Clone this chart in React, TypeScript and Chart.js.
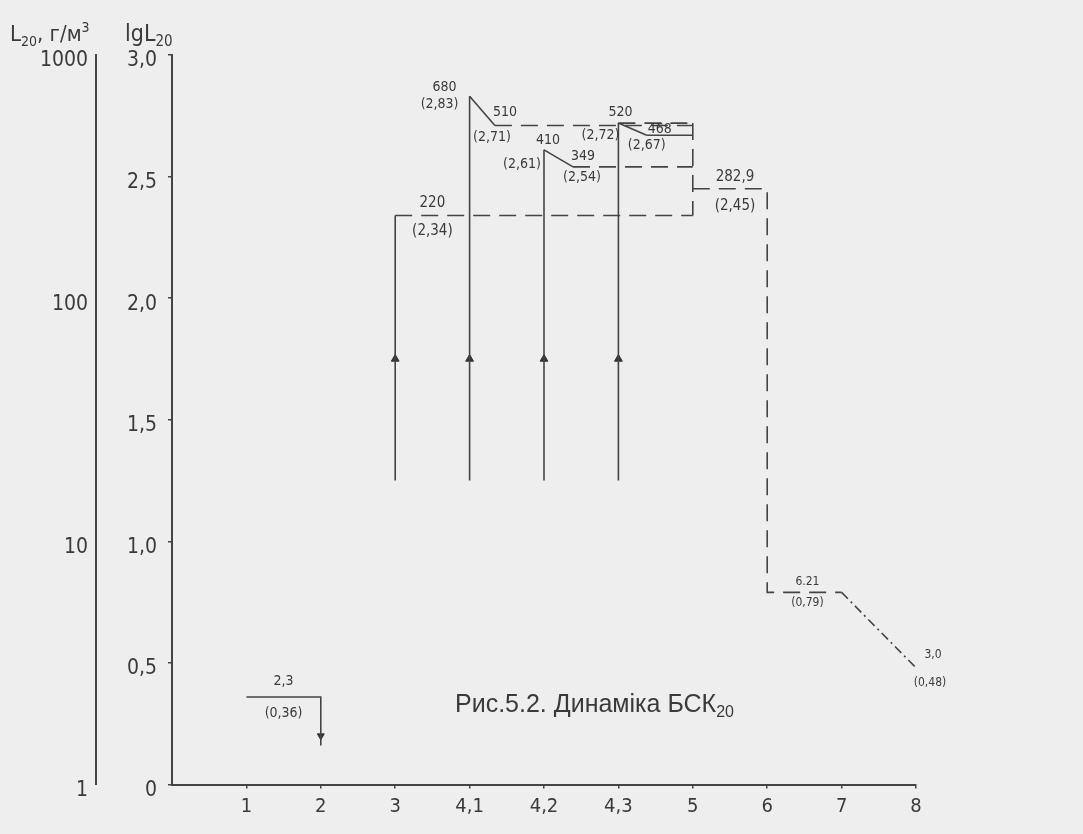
import React, { useEffect, useRef } from 'react';
import { Chart, registerables } from 'chart.js';

Chart.register(...registerables);

// ---------- data ----------
const xCategories = ['1', '2', '3', '4,1', '4,2', '4,3', '5', '6', '7', '8']; // at positions 1..10
const lgTicks = [0, 0.5, 1, 1.5, 2, 2.5, 3];
const l20Ticks = [1, 10, 100, 1000]; // at lg = 0, 1, 2, 3

// stations 1–2
const st12Lg = 0.36;
const st2DropLg = 0.16;
const st2ArrowLg = 0.2;
// risers at stations 3, 4.1, 4.2, 4.3 (positions 3..6)
const riserPos = [3, 4, 5, 6];
const riserBaseLg = 1.25;
const riserArrowLg = 1.75;
const riserTopLg = [2.34, 2.83, 2.61, 2.72];
// decline after peaks at 4.1, 4.2, 4.3
const dropStartPos = [4, 5, 6];
const dropStartLg = [2.83, 2.61, 2.72];
const dropEndPos = [4.34, 5.39, 6.38];
const dropEndLg = [2.71, 2.54, 2.67];
// stations 5..8
const st5Pos = 7;
const st6Pos = 8;
const st7Pos = 9;
const st8Pos = 10;
const st3Lg = 2.34;
const st5TopLg = 2.72;
const st56Lg = 2.45;
const st67Lg = 0.79;
const st8Lg = 0.48;

// annotation texts
const l20Labels = ['2,3', '220', '680', '510', '410', '349', '520', '468', '282,9', '6.21', '3,0'];
const lgLabels = ['(0,36)', '(2,34)', '(2,83)', '(2,71)', '(2,61)', '(2,54)', '(2,72)', '(2,67)', '(2,45)', '(0,79)', '(0,48)'];
const labelAnchorX = [1.5, 3.5, 4, 4.34, 5, 5.39, 6, 6.38, 7.5, 8.5, 10];
const labelAnchorLg = [0.36, 2.34, 2.83, 2.71, 2.61, 2.54, 2.72, 2.67, 2.45, 0.79, 0.48];

// ---------- layout / style (not data) ----------
const labelLayout = [
  { tdx: 0, tdy: -16, bdx: 0, bdy: 16, size: 14 },
  { tdx: 0, tdy: -12, bdx: 0, bdy: 16, size: 15 },
  { tdx: -25, tdy: -9, bdx: -30, bdy: 8, size: 14 },
  { tdx: 10, tdy: -13, bdx: -3, bdy: 12, size: 14 },
  { tdx: 4, tdy: -9, bdx: -22, bdy: 15, size: 14 },
  { tdx: 10, tdy: -10, bdx: 9, bdy: 11, size: 14 },
  { tdx: 2, tdy: -11, bdx: -18, bdy: 12, size: 14 },
  { tdx: 13, tdy: -6, bdx: 0, bdy: 10, size: 14 },
  { tdx: 5, tdy: -12, bdx: 5, bdy: 17, size: 15 },
  { tdx: 3, tdy: -11, bdx: 3, bdy: 10, size: 12 },
  { tdx: 17, tdy: -13, bdx: 14, bdy: 15, size: 12 },
];

const FONT = "'DejaVu Sans Condensed', 'Liberation Sans Narrow', 'DejaVu Sans', sans-serif";
const INK = '#3a3a3a';
const LINE = '#444444';
const BG = '#eeeeee';
const DASH = [17, 9];
const DASHDOT = [9, 4, 2, 4];

type P = { x: number; y: number };
const seg = (pts: P[], dash: number[] = [], width = 1.6) => ({
  type: 'line' as const,
  data: pts,
  showLine: true,
  borderColor: LINE,
  borderWidth: width,
  borderDash: dash,
  pointRadius: 0,
  fill: false,
  tension: 0,
  xAxisID: 'x',
  yAxisID: 'y',
});

function buildDatasets() {
  const ds: any[] = [];
  // station 1-2
  ds.push(seg([{ x: 1, y: st12Lg }, { x: 2, y: st12Lg }, { x: 2, y: st2DropLg }]));
  // risers
  riserPos.forEach((p, i) => ds.push(seg([{ x: p, y: riserBaseLg }, { x: p, y: riserTopLg[i] }])));
  // declines
  dropStartPos.forEach((p, i) =>
    ds.push(seg([{ x: p, y: dropStartLg[i] }, { x: dropEndPos[i], y: dropEndLg[i] }]))
  );
  // solid continuation of 4.3 decline
  ds.push(seg([{ x: dropEndPos[2], y: dropEndLg[2] }, { x: st5Pos, y: dropEndLg[2] }]));
  // dashed levels to station 5
  ds.push(seg([{ x: riserPos[0], y: st3Lg }, { x: st5Pos, y: st3Lg }], DASH));
  ds.push(seg([{ x: dropEndPos[0], y: dropEndLg[0] }, { x: st5Pos, y: dropEndLg[0] }], DASH));
  ds.push(seg([{ x: riserPos[3], y: st5TopLg }, { x: st5Pos, y: st5TopLg }], DASH));
  ds.push(seg([{ x: dropEndPos[1], y: dropEndLg[1] }, { x: st5Pos, y: dropEndLg[1] }], DASH));
  ds.push(seg([{ x: st5Pos, y: st5TopLg }, { x: st5Pos, y: st3Lg }], DASH));
  // 5 -> 6 -> 7
  ds.push(
    seg(
      [
        { x: st5Pos, y: st56Lg },
        { x: st6Pos, y: st56Lg },
        { x: st6Pos, y: st67Lg },
        { x: st7Pos, y: st67Lg },
      ],
      DASH
    )
  );
  // 7 -> 8
  ds.push(seg([{ x: st7Pos, y: st67Lg }, { x: st8Pos, y: st8Lg }], DASHDOT));
  // arrowheads
  ds.push({
    type: 'scatter',
    data: riserPos.map((p) => ({ x: p, y: riserArrowLg })),
    pointStyle: 'triangle',
    pointRadius: 4.5,
    pointBackgroundColor: '#333',
    pointBorderColor: '#333',
    pointBorderWidth: 1,
    showLine: false,
    xAxisID: 'x',
    yAxisID: 'y',
  });
  ds.push({
    type: 'scatter',
    data: [{ x: 2, y: st2ArrowLg }],
    pointStyle: 'triangle',
    rotation: 180,
    pointRadius: 4,
    pointBackgroundColor: '#333',
    pointBorderColor: '#333',
    pointBorderWidth: 1,
    showLine: false,
    xAxisID: 'x',
    yAxisID: 'y',
  });
  return ds;
}

const bgPlugin = {
  id: 'bg',
  beforeDraw(chart: any) {
    const { ctx, width, height } = chart;
    ctx.save();
    ctx.fillStyle = BG;
    ctx.fillRect(0, 0, width, height);
    ctx.restore();
  },
};

function drawSub(ctx: CanvasRenderingContext2D, parts: { t: string; size: number; dy: number; family?: string }[], x: number, y: number) {
  let cx = x;
  parts.forEach((p) => {
    ctx.font = `${p.size}px ${p.family || FONT}`;
    ctx.fillText(p.t, cx, y + p.dy);
    cx += ctx.measureText(p.t).width;
  });
}

const textPlugin = {
  id: 'texts',
  afterDraw(chart: any) {
    const { ctx } = chart;
    const xs = chart.scales.x;
    const ys = chart.scales.y;
    ctx.save();
    ctx.fillStyle = INK;
    ctx.textAlign = 'center';
    ctx.textBaseline = 'middle';
    labelLayout.forEach((lay, i) => {
      const px = xs.getPixelForValue(labelAnchorX[i]);
      const py = ys.getPixelForValue(labelAnchorLg[i]);
      ctx.font = `${lay.size}px ${FONT}`;
      ctx.fillText(l20Labels[i], px + lay.tdx, py + lay.tdy);
      ctx.fillText(lgLabels[i], px + lay.bdx, py + lay.bdy);
    });
    // axis titles
    ctx.textAlign = 'left';
    ctx.textBaseline = 'alphabetic';
    drawSub(
      ctx,
      [
        { t: 'L', size: 22, dy: 0 },
        { t: '20', size: 14, dy: 5 },
        { t: ', г/м', size: 22, dy: 0 },
        { t: '3', size: 14, dy: -9 },
      ],
      10,
      41
    );
    drawSub(
      ctx,
      [
        { t: 'lgL', size: 23, dy: 0 },
        { t: '20', size: 15, dy: 5 },
      ],
      125,
      41
    );
    // figure caption
    const TF = "'Liberation Sans', Arial, sans-serif";
    drawSub(
      ctx,
      [
        { t: 'Рис.5.2. Динаміка БСК', size: 25, dy: 0, family: TF },
        { t: '20', size: 16, dy: 5, family: TF },
      ],
      455,
      712
    );
    ctx.restore();
  },
};

export default function App() {
  const ref = useRef<HTMLCanvasElement | null>(null);
  useEffect(() => {
    document.body.style.margin = '0';
    document.body.style.background = BG;
    const canvas = ref.current;
    if (!canvas) return;
    const chart = new Chart(canvas, {
      type: 'scatter',
      data: { datasets: buildDatasets() },
      options: {
        animation: false,
        responsive: false,
        devicePixelRatio: 1,
        layout: { padding: { top: 55, right: 167, left: 0, bottom: 0 } },
        plugins: { legend: { display: false }, tooltip: { enabled: false }, title: { display: false } },
        scales: {
          x: {
            type: 'linear',
            min: 0,
            max: 10,
            afterFit: (s: any) => {
              s.height = 49.5;
            },
            afterBuildTicks: (s: any) => {
              s.ticks = xCategories.map((_, i) => ({ value: i + 1 }));
            },
            ticks: {
              autoSkip: false,
              maxRotation: 0,
              padding: 6,
              color: INK,
              font: { family: FONT, size: 20 },
              callback: (v: any) => xCategories[Math.round(v) - 1] ?? '',
            },
            grid: { display: true, drawOnChartArea: false, drawTicks: true, tickLength: 4, color: LINE, lineWidth: 1.5 },
            border: { display: true, color: LINE, width: 2 },
          },
          y: {
            type: 'linear',
            position: 'left',
            weight: 0,
            min: 0,
            max: 3,
            afterFit: (s: any) => {
              s.width = 76;
            },
            afterBuildTicks: (s: any) => {
              s.ticks = lgTicks.map((v) => ({ value: v }));
            },
            ticks: {
              padding: 11,
              labelOffset: 6,
              color: INK,
              font: { family: FONT, size: 21 },
              callback: (v: any) => (v === 0 ? '0' : Number(v).toFixed(1).replace('.', ',')),
            },
            grid: { display: true, drawOnChartArea: false, drawTicks: true, tickLength: 4, color: LINE, lineWidth: 1.5 },
            border: { display: true, color: LINE, width: 2 },
          },
          yL: {
            type: 'linear',
            position: 'left',
            weight: 1,
            min: 0,
            max: 3,
            afterFit: (s: any) => {
              s.width = 96;
            },
            afterBuildTicks: (s: any) => {
              s.ticks = l20Ticks.map((_, i) => ({ value: i }));
            },
            ticks: {
              padding: 8,
              labelOffset: 6,
              color: INK,
              font: { family: FONT, size: 21 },
              callback: (v: any) => String(l20Ticks[Math.round(v)] ?? ''),
            },
            grid: { display: false, drawTicks: false },
            border: { display: true, color: LINE, width: 2 },
          },
        },
      } as any,
      plugins: [bgPlugin, textPlugin],
    });
    return () => chart.destroy();
  }, []);
  return (
    <div style={{ width: 1083, height: 834, background: BG }}>
      <canvas ref={ref} width={1083} height={834} style={{ display: 'block' }} />
    </div>
  );
}
